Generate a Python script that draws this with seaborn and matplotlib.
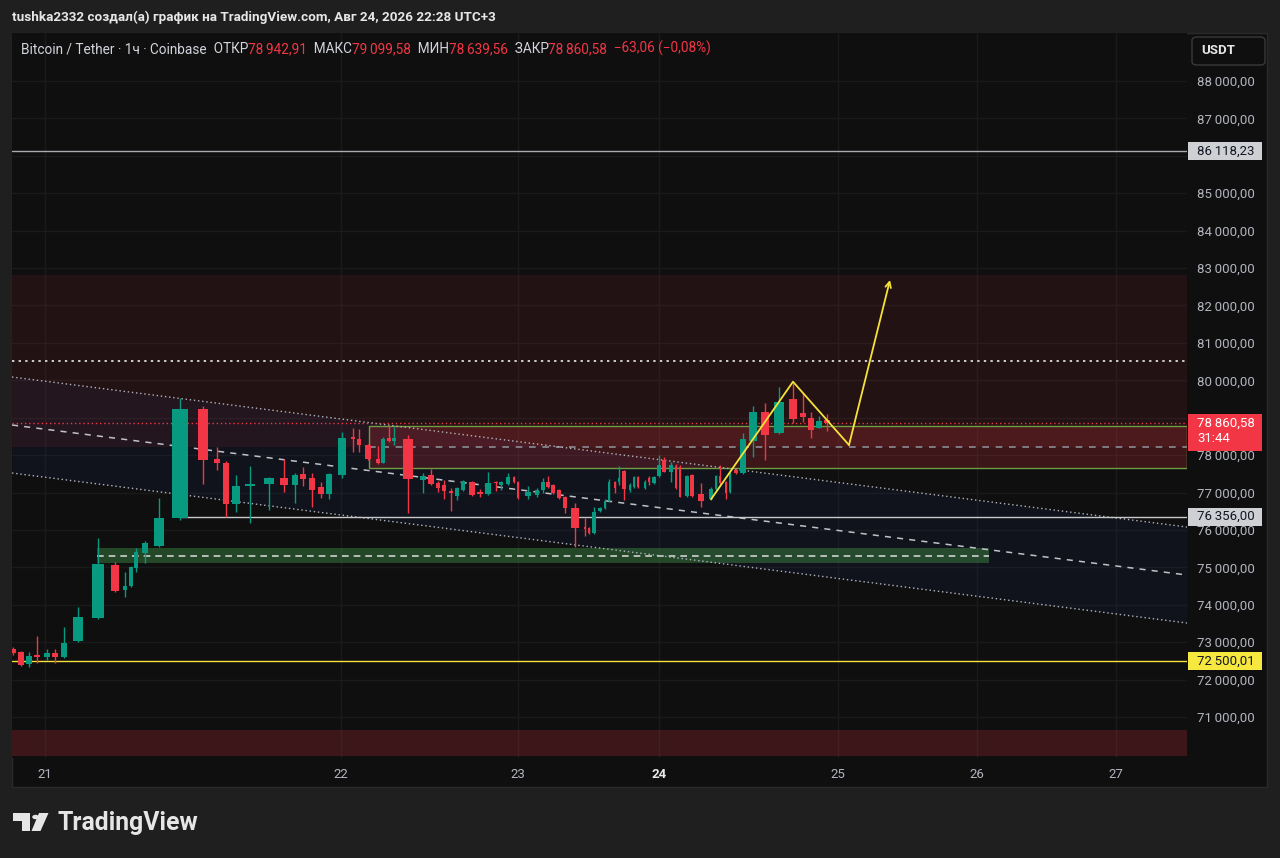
import matplotlib
matplotlib.use("Agg")
import matplotlib.pyplot as plt
import matplotlib.transforms as mtransforms
from matplotlib.patches import Rectangle, FancyBboxPatch, Polygon, Circle
import numpy as np
import seaborn as sns

# ---- candles (BTC/USDT, 1h, Coinbase) ----
# x position on the chart's own time axis (day ticks below are on the same scale)
pos = [1.3, 2.1, 2.9, 3.7, 4.7, 5.5, 6.4, 7.8, 9.8, 11.5,
       12.5, 13.1, 13.6, 14.5, 15.9, 18.0, 20.3, 21.7, 22.6, 23.6,
       25.0, 26.9, 28.4, 29.5, 30.3, 31.2, 32.1, 32.9, 34.2, 35.3,
       35.9, 36.8, 37.8, 38.3, 38.9, 39.4, 40.8, 42.3, 43.1, 43.8,
       44.4, 45.1, 45.7, 46.3, 47.2, 48.0, 48.8, 49.6, 50.1, 50.8,
       51.4, 51.8, 52.8, 53.7, 54.3, 54.8, 55.3, 55.9, 56.5, 57.5,
       58.5, 58.9, 59.4, 60.0, 60.5, 60.9, 61.5, 61.9, 62.4, 63.0,
       63.4, 63.8, 64.5, 64.9, 65.4, 65.9, 66.4, 67.1, 67.6, 68.0,
       68.7, 69.2, 70.1, 71.1, 71.6, 72.0, 72.6, 73.0, 73.6, 74.3,
       75.3, 76.5, 77.9, 79.3, 80.3, 81.1, 81.9, 82.7]
opens = [72817, 72737, 72416, 72657, 72603, 72710, 72603, 73031, 73646, 75063,
         74394, 74501, 74982, 75383, 75570, 76319, 79232, 77896, 77789, 76693,
         77174, 77228, 77388, 77201, 77495, 77388, 77147, 76960, 77468, 78484,
         78430, 78270, 77896, 77789, 78457, 78377, 78430, 77335, 77468, 77254,
         77201, 77040, 76907, 77067, 77281, 77014, 76960, 77281, 77201, 77228,
         77415, 77281, 76907, 76934, 77067, 77281, 77201, 77067, 76880, 76586,
         76078, 76051, 75917, 76506, 76586, 76773, 77281, 77281, 77575, 77067,
         77147, 77415, 77121, 77388, 77254, 77441, 77869, 77548, 77709, 77683,
         76907, 77468, 76960, 76827, 77094, 77441, 77281, 77014, 77602, 77522,
         78377, 79152, 78591, 79500, 79125, 78992, 78724, 78942.91]
highs = [72870, 72764, 72737, 73165, 72817, 72817, 73406, 73940, 75784, 75143,
         74875, 75036, 75517, 75704, 76854, 79526, 79313, 78217, 77842, 77468,
         77709, 77415, 77896, 77522, 77682, 77522, 77281, 77522, 78617, 78724,
         78697, 78297, 78243, 78484, 78778, 78751, 78537, 77522, 77629, 77308,
         77335, 77121, 77147, 77335, 77308, 77094, 77548, 77308, 77308, 77522,
         77441, 77308, 77174, 77121, 77388, 77441, 77228, 77094, 76907, 76720,
         76319, 76078, 76613, 76613, 76827, 77361, 77308, 77709, 77602, 77254,
         77441, 77441, 77335, 77441, 77441, 78003, 77949, 77816, 77763, 77736,
         77468, 77495, 77254, 77147, 77468, 77736, 77308, 77548, 77629, 78591,
         79312, 79392, 79820, 79927, 79660, 79152, 79045, 79099.58]
lows = [72657, 72363, 72336, 72443, 72523, 72443, 72576, 73004, 73619, 74340,
        74207, 74474, 74875, 75116, 75544, 76265, 77228, 77602, 76345, 76479,
        76185, 76533, 77014, 76720, 77174, 76613, 76853, 76827, 77388, 78083,
        78083, 77869, 77762, 77789, 78350, 78270, 76452, 76987, 77201, 77014,
        76827, 76506, 76800, 77040, 76907, 76880, 76934, 77040, 77067, 77201,
        77254, 76827, 76827, 76880, 76987, 77121, 76960, 76827, 76452, 75543,
        75838, 75891, 75891, 76479, 76559, 76746, 76987, 77201, 76800, 77014,
        77121, 77121, 77094, 77201, 77228, 77415, 77548, 77281, 77094, 76880,
        76880, 76880, 76613, 76800, 77067, 77201, 76827, 76987, 77495, 77495,
        77949, 77869, 78564, 78858, 78885, 78457, 78724, 78639.56]
closes = [72711, 72390, 72630, 72603, 72710, 72603, 72978, 73673, 75090, 74367,
          74501, 75009, 75410, 75650, 76319, 79232, 77869, 77789, 76693, 77174,
          77228, 77388, 77201, 77468, 77361, 77067, 76960, 77495, 78457, 78430,
          78270, 77896, 77789, 78430, 78377, 78457, 77361, 77441, 77228, 77121,
          77040, 76987, 77121, 77308, 76934, 76960, 77254, 77254, 77281, 77415,
          77281, 76854, 77014, 77067, 77281, 77147, 76987, 76854, 76586, 76051,
          76025, 75917, 76479, 76586, 76773, 77281, 77121, 77388, 77094, 77201,
          77415, 77147, 77281, 77281, 77415, 77736, 77548, 77736, 77121, 76880,
          77441, 76907, 76773, 77094, 77441, 77254, 76987, 77522, 77522, 78430,
          79152, 78537, 79420, 78965, 79018, 78671, 78923.64, 78860.58]

day_pos = [4.5, 34.1, 51.8, 65.9, 83.8, 97.7, 111.6]
day_labels = ["21", "22", "23", "24", "25", "26", "27"]
price_ticks = list(range(71000, 89000, 1000))

# ---- drawings on the chart ----
x_range = [1.2, 118.7]
channel_upper = [80088, 76078]
channel_mid = [78805, 74795]
channel_lower = [77522, 73512]
resist_zone = [78220, 82814]
box_x = [36.9, 118.7]
box_zone = [77650, 78790]
band_x = [9.7, 98.9]
band_zone = [75116, 75517]
low_zone = [69957, 70652]
level_top = 86118.23
level_mid = 76356.00
level_mid_start = 18.0
level_low = 72500.01
path_x = [71.1, 79.3, 84.9, 89.0]
path_y = [76818, 79962, 78270, 82681]

author = "tushka2332"
stamp = "Авг 24, 2026 22:28 UTC+3"
symbol = "Bitcoin / Tether · 1ч · Coinbase"
countdown = "31:44"

BG = "#1f1f1f"
PANE = "#0f0f0f"
GRID = "#1a1a1a"
UP = "#089981"
DOWN = "#F23645"
LIGHT = "#d1d4dc"
AXIS_TXT = "#b2b5be"
YELLOW = "#f5e33b"

sns.set_style("dark", rc={"axes.facecolor": PANE, "figure.facecolor": BG})
plt.rcParams["font.family"] = ["Roboto", "DejaVu Sans"]


def fmt(v):
    return f"{v:,.2f}".replace(",", "\u2009").replace(".", ",")


W, H = 1280, 858
fig = plt.figure(figsize=(W / 100, H / 100), dpi=100)
fig.patch.set_facecolor(BG)


def fx(px):
    return px / W


def fy(py):
    return 1 - py / H


# chart pane behind the axes
fig.add_artist(Rectangle((fx(12), fy(787)), fx(1267) - fx(12), fy(33) - fy(787),
                         transform=fig.transFigure, facecolor=PANE,
                         edgecolor="#2a2a2a", lw=1, zorder=-1))

ax = fig.add_axes([fx(12), fy(758), fx(1187) - fx(12), fy(33) - fy(758)])
ax.set_facecolor(PANE)
ax.set_xlim(x_range)
ax.set_ylim(69904, 89283)
for s in ax.spines.values():
    s.set_visible(False)

ylo, yhi = ax.get_ylim()
ppx = (yhi - ylo) / (ax.get_position().height * H)

# price tags: (value, px below the value that the tag covers)
tags = [(level_top, 9), (level_mid, 9), (level_low, 9), (closes[-1], 28)]


def hidden(v):
    return any(t - (b + 2) * ppx < v < t + 11 * ppx for t, b in tags)


ax.set_xticks(day_pos, day_labels)
ax.set_yticks(price_ticks, ["" if hidden(v) else fmt(v) for v in price_ticks])
ax.yaxis.tick_right()
ax.tick_params(axis="y", length=0, pad=7.2, labelsize=9.5, labelcolor=AXIS_TXT)
ax.tick_params(axis="x", length=0, pad=7, labelsize=9.5, labelcolor=AXIS_TXT)
ax.grid(True, color=GRID, lw=1)
ax.set_axisbelow(True)
lbl24 = ax.get_xticklabels()[day_labels.index("24")]
lbl24.set_fontweight("bold")
lbl24.set_color("#e8e8e8")

# zones (drawn over the grid, translucent)
ax.axhspan(*resist_zone, color=DOWN, alpha=0.09, lw=0, zorder=0.7)
ax.axhline(np.mean(resist_zone), color="#cfcfcf", lw=1.4, ls=(0, (1.2, 2.2)), zorder=1)
ax.fill_between(box_x, box_zone[0], box_zone[1], color=DOWN, alpha=0.2, lw=0, zorder=0.8)
ax.add_patch(Rectangle((box_x[0], box_zone[0]), box_x[1] - box_x[0], box_zone[1] - box_zone[0],
                       fill=False, edgecolor="#6f9c45", lw=1, zorder=1.2))
ax.plot(box_x, [np.mean(box_zone)] * 2, color="#8a8d94", lw=1.2, ls=(0, (4, 4)), zorder=1.1)
ax.fill_between(band_x, band_zone[0], band_zone[1], color="#3f8f45", alpha=0.45, lw=0, zorder=0.8)
ax.plot(band_x, [np.mean(band_zone)] * 2, color="#d0d0d0", lw=1.2, ls=(0, (4, 3)), zorder=1.1)
ax.axhspan(*low_zone, color=DOWN, alpha=0.2, lw=0, zorder=0.7)

# descending channel
ax.fill_between(x_range, channel_lower, channel_upper, color="#2962ff", alpha=0.05, lw=0, zorder=0.75)
sns.lineplot(x=x_range, y=channel_upper, color="#b2b5be", lw=1, linestyle=(0, (1, 2)), ax=ax, zorder=1.3)
sns.lineplot(x=x_range, y=channel_mid, color="#c0c2c8", lw=1.1, linestyle=(0, (4, 4)), ax=ax, zorder=1.3)
sns.lineplot(x=x_range, y=channel_lower, color="#b2b5be", lw=1, linestyle=(0, (1, 2)), ax=ax, zorder=1.3)

# horizontal levels
ax.axhline(level_top, color="#a9abb0", lw=1, zorder=1.4)
ax.plot([level_mid_start, x_range[1]], [level_mid] * 2, color="#c9c9c9", lw=1, zorder=1.4)
ax.axhline(level_low, color=YELLOW, lw=1, zorder=1.4)
ax.axhline(closes[-1], color=DOWN, lw=1, ls=(0, (1, 2)), zorder=1.5)

# candles
p = np.array(pos)
o = np.array(opens)
c = np.array(closes)
gaps = np.diff(p)
widths = 0.72 * np.minimum(np.r_[gaps[0], gaps], np.r_[gaps, gaps[-1]])
colors = np.where(c >= o, UP, DOWN)
ax.vlines(p, lows, highs, colors=colors, lw=1, zorder=3)
ax.bar(p, np.maximum(np.abs(c - o), 30), bottom=np.minimum(o, c), width=widths,
       color=colors, lw=0, zorder=3.1)

# projected path
sns.lineplot(x=path_x[:-1], y=path_y[:-1], color=YELLOW, lw=1.3, sort=False, ax=ax, zorder=4)
ax.annotate("", xy=(path_x[-1], path_y[-1]), xytext=(path_x[-2], path_y[-2]),
            arrowprops=dict(arrowstyle="->", color=YELLOW, lw=1.3, shrinkA=0, shrinkB=0,
                            mutation_scale=10), zorder=4)

# price tags on the scale
trans = mtransforms.blended_transform_factory(fig.transFigure, ax.transData)


def price_tag(value, face, txt, below=9, second=None):
    fig.add_artist(Rectangle((fx(1188), value - below * ppx), fx(1262) - fx(1188), (9 + below) * ppx,
                             transform=trans, facecolor=face, lw=0, zorder=5))
    fig.text(fx(1197), value, fmt(value), transform=trans, color=txt, fontsize=9.5,
             va="center", ha="left", zorder=6)
    if second:
        fig.text(fx(1197), value - 16 * ppx, second, transform=trans, color=txt, fontsize=9.5,
                 va="center", ha="left", zorder=6)


price_tag(level_top, "#cfd0d4", "#131722")
price_tag(level_mid, "#cfd0d4", "#131722")
price_tag(level_low, "#f7e83f", "#131722")
price_tag(closes[-1], DOWN, "#ffffff", below=28, second=countdown)

# currency button
fig.add_artist(FancyBboxPatch((fx(1192), fy(65)), fx(1265) - fx(1192), fy(37) - fy(65),
                              boxstyle="round,pad=0,rounding_size=0.004", transform=fig.transFigure,
                              facecolor=PANE, edgecolor="#3a3a3a", lw=1, zorder=5))
fig.text(fx(1201), fy(51), "USDT", color="#e6e6e6", fontsize=9.5, fontweight="bold",
         va="center", ha="left", zorder=6)

# header
fig.text(fx(12), fy(17), f"{author} создал(а) график на TradingView.com, {stamp}",
         color="#e6e6e6", fontsize=9.7, fontweight="bold", va="center", ha="left")

# legend line with OHLC of last bar
change = closes[-1] - closes[-2]
pct = change / closes[-2] * 100
sign = "−" if change < 0 else "+"
segments = [("  ОТКР", LIGHT), (fmt(opens[-1]), DOWN), ("  МАКС", LIGHT), (fmt(highs[-1]), DOWN),
            ("  МИН", LIGHT), (fmt(lows[-1]), DOWN), ("  ЗАКР", LIGHT), (fmt(closes[-1]), DOWN),
            (f"  {sign}{fmt(abs(change))} ({sign}{fmt(abs(pct))}%)", DOWN)]
prev = fig.text(fx(21), fy(49), symbol, color=LIGHT, fontsize=9.8, va="center", ha="left")
for s, col in segments:
    prev = ax.annotate(s, xy=(1, 0), xycoords=prev, va="bottom", ha="left", color=col,
                       fontsize=9.8, annotation_clip=False)

# TradingView logo
logo_c = "#e6e6e6"
fig.add_artist(Polygon([(fx(13), fy(813)), (fx(30), fy(813)), (fx(30), fy(831)), (fx(22), fy(831)),
                        (fx(22), fy(821)), (fx(13), fy(821))], closed=True,
                       transform=fig.transFigure, facecolor=logo_c, lw=0))
fig.add_artist(Circle((fx(35.5), fy(817)), 3.3 / W, transform=fig.transFigure, facecolor=logo_c, lw=0))
fig.add_artist(Polygon([(fx(39), fy(813)), (fx(48.5), fy(813)), (fx(40.5), fy(831)), (fx(31.5), fy(831))],
                       closed=True, transform=fig.transFigure, facecolor=logo_c, lw=0))
fig.text(fx(57), fy(823), "TradingView", color=logo_c, fontsize=17.8, fontweight="bold",
         va="center", ha="left")

fig.savefig("out.png", dpi=100, facecolor=fig.get_facecolor())
